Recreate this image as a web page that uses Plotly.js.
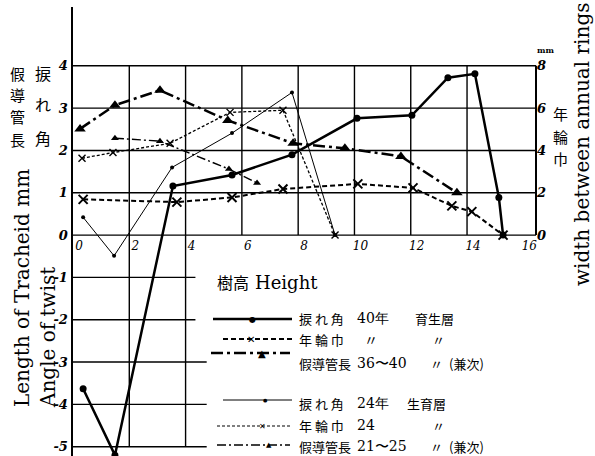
<!DOCTYPE html>
<html><head><meta charset="utf-8">
<script src="https://cdn.plot.ly/plotly-3.0.1.min.js"></script>
<style>html,body{margin:0;padding:0;background:#fff}</style>
</head><body><div id="chart" style="width:595px;height:456px"></div>
<script>
// ---- data ----
const twist40X = [0.36, 1.49, 3.55, 5.65, 7.78, 10.09, 12.04, 13.32, 14.28, 15.13, 15.28];
const twist40Y = [-3.63, -5.2, 1.16, 1.42, 1.9, 2.76, 2.83, 3.72, 3.81, 0.89, 0];
const ring40X = [0.36, 3.69, 5.65, 7.46, 10.12, 12.08, 13.46, 14.17, 15.28];
const ring40Y = [1.69, 1.56, 1.78, 2.18, 2.42, 2.23, 1.38, 1.11, 0];          // mm (right axis)
const trach40X = [0.25, 1.49, 3.09, 5.5, 7.82, 9.66, 11.65, 13.64];
const trach40Y = [2.51, 3.07, 3.42, 2.71, 2.17, 2.05, 1.86, 1.0];
const twist24X = [0.36, 1.46, 3.52, 5.65, 7.78, 9.31];
const twist24Y = [0.42, -0.49, 1.6, 2.41, 3.37, 0];
const ring24X = [0.32, 1.42, 3.45, 5.58, 7.46, 9.31];
const ring24Y = [3.63, 3.9, 4.34, 5.8, 5.9, 0];                                // mm (right axis)
const trach24X = [1.49, 3.09, 5.54, 6.54];
const trach24Y = [2.29, 2.22, 1.56, 1.23];

const xTicks = [0, 2, 4, 6, 8, 10, 12, 14, 16];
const yTicks = [-5, -4, -3, -2, -1, 0, 1, 2, 3, 4];
const yTickText = ['-5', '-4', '-3', '-2', '-1', '0', '1', '2', '3', '4'];
const y2Ticks = [0, 2, 4, 6, 8];
const upperGridY = [0, 1, 2, 3, 4];
const lowerGridY = [-1, -2, -3, -4, -5];
const lowerGridEnd = [4.35, 4.35, 4.75, 4.75, 4.75];
const upperGridX = [2, 4, 6, 8, 10, 12, 14];
const lowerGridX = [2, 4];

// ---- geometry helpers ----
const L = 73, T = 7, W = 463, H = 449;
const px = x => (x - L) / W;
const py = y => (456 - y) / H;

const K = 'black';
const traces = [
  {x: twist40X, y: twist40Y, mode: 'lines+markers', line: {color: K, width: 2.5}, marker: {symbol: 'circle', size: 7, color: K}},
  {x: ring40X, y: ring40Y, yaxis: 'y2', mode: 'lines+markers', line: {color: K, width: 2, dash: '5px,3px'}, marker: {symbol: 'x-thin', size: 9, line: {color: K, width: 2}}},
  {x: trach40X, y: trach40Y, mode: 'lines+markers', line: {color: K, width: 2.5, dash: '12px,4px,3px,4px'}, marker: {symbol: 'triangle-up', size: 10, color: K}},
  {x: twist24X, y: twist24Y, mode: 'lines+markers', line: {color: K, width: 1}, marker: {symbol: 'circle', size: 4, color: K}},
  {x: ring24X, y: ring24Y, yaxis: 'y2', mode: 'lines+markers', line: {color: K, width: 1.3, dash: '3px,2px'}, marker: {symbol: 'x-thin', size: 7, line: {color: K, width: 1.4}}},
  {x: trach24X, y: trach24Y, mode: 'lines+markers', line: {color: K, width: 1.4, dash: '9px,3px,2px,3px'}, marker: {symbol: 'triangle-up', size: 7, color: K}}
];

const shapes = [];
upperGridY.forEach(v => shapes.push({type: 'line', xref: 'paper', yref: 'y', x0: 0, x1: 1, y0: v, y1: v, line: {color: K, width: 1.4}, layer: 'below'}));
lowerGridY.forEach((v, i) => shapes.push({type: 'line', xref: 'x', yref: 'y', x0: 0, x1: lowerGridEnd[i], y0: v, y1: v, line: {color: K, width: 1.4}, layer: 'below'}));
upperGridX.forEach(v => shapes.push({type: 'line', xref: 'x', yref: 'y', x0: v, x1: v, y0: 0, y1: 4, line: {color: K, width: 1.4}, layer: 'below'}));
lowerGridX.forEach(v => shapes.push({type: 'line', xref: 'x', yref: 'y', x0: v, x1: v, y0: -5, y1: 0, line: {color: K, width: 1.4}, layer: 'below'}));
// right axis line (0..8 mm)
shapes.push({type: 'line', xref: 'paper', yref: 'y2', x0: 1, x1: 1, y0: 0, y1: 8, line: {color: K, width: 2}});

// legend rows: line y, x0, x1, dash, width, glyph, glyph x, glyph size
const legRows = [
  [319, 213, 292, 'solid', 2.5, '●', 252, 8],
  [339, 223, 292, '5px,3px', 2, '✕', 251, 10],
  [353, 211, 290, '12px,4px,3px,4px', 2.5, '▲', 262, 10],
  [400, 223, 292, 'solid', 1, '●', 265, 5],
  [426, 217, 290, '3px,2px', 1.2, '✕', 262, 8],
  [445, 217, 290, '9px,3px,2px,3px', 1.3, '▲', 269, 7]
];
const ann = [];
legRows.forEach(r => {
  shapes.push({type: 'line', xref: 'paper', yref: 'paper', x0: px(r[1]), x1: px(r[2]), y0: py(r[0]), y1: py(r[0]), line: {color: K, width: r[4], dash: r[3]}});
  ann.push({xref: 'paper', yref: 'paper', x: px(r[6]), y: py(r[0]), text: r[5], showarrow: false, font: {family: 'DejaVu Sans', size: r[7], color: K}, xanchor: 'center', yanchor: 'middle'});
});

const CJK = 'Noto Sans CJK JP';
const SER = 'DejaVu Serif';
function txt(s, x, y, size, fam, opts) {
  ann.push(Object.assign({xref: 'paper', yref: 'paper', x: px(x), y: py(y), text: s, showarrow: false,
    font: {family: fam, size: size, color: K}, xanchor: 'left', yanchor: 'middle'}, opts || {}));
}
// legend texts
txt('樹高', 215, 282, 16, CJK);
txt('Height', 253, 282, 18, SER);
const legTexts = [
  [318, '捩 れ 角', '40年', 355, '育生層', 413, ''],
  [339, '年 輪 巾', '〃', 362, '〃', 430, ''],
  [363, '假導管長', '36〜40', 355, '〃', 428, '(兼次)'],
  [403, '捩 れ 角', '24年', 355, '生育層', 405, ''],
  [425, '年 輪 巾', '24', 355, '〃', 430, ''],
  [446, '假導管長', '21〜25', 355, '〃', 428, '(兼次)']
];
legTexts.forEach(r => {
  txt(r[1], 297, r[0], 13, CJK);
  txt(r[2], r[3], r[0], 14, (r[2] === '〃') ? CJK : SER);
  txt(r[4], r[5], r[0], 13, CJK);
  if (r[6]) txt(r[6], 447, r[0], 13, CJK);
});
// left vertical CJK labels
[['假', 73], ['導', 94], ['管', 116], ['長', 139]].forEach(c => txt(c[0], 17.5, c[1], 15, CJK, {xanchor: 'center'}));
[['捩', 73], ['れ', 104], ['角', 138]].forEach(c => txt(c[0], 43, c[1], 16, CJK, {xanchor: 'center'}));
// right vertical CJK label
[['年', 113], ['輪', 136], ['巾', 158]].forEach(c => txt(c[0], 560, c[1], 15, CJK, {xanchor: 'center'}));
txt('mm', 545, 50, 8, SER, {xanchor: 'center', font: {family: SER, size: 8, color: K, weight: 'bold'}});
// rotated titles
txt('Length of Tracheid mm', 22, 288, 20, SER, {xanchor: 'center', textangle: -90});
txt('Angle of twist', 48, 338, 20, SER, {xanchor: 'center', textangle: -90});
txt('width between annual rings', 582, 145, 20, SER, {xanchor: 'center', textangle: -90});

const tickFont = {family: SER, size: 13, color: K, style: 'italic', weight: 'bold'};
const layout = {
  width: 595, height: 456,
  margin: {l: L, r: 595 - L - W, t: T, b: 456 - T - H},
  paper_bgcolor: 'white', plot_bgcolor: 'white',
  showlegend: false,
  xaxis: {range: [0, 16.45], showgrid: false, zeroline: false, showline: false, anchor: 'free', position: py(237),
          tickvals: xTicks, ticks: '', ticklabelshift: 6, ticklabelstandoff: 0,
          tickfont: {family: SER, size: 12, color: K, style: 'italic'}},
  yaxis: {range: [-5.22, 5.39], showgrid: false, zeroline: false, showline: true, linecolor: K, linewidth: 2.5,
          tickvals: yTicks, ticktext: yTickText, ticks: '', tickfont: tickFont},
  yaxis2: {range: [-10.44, 10.78], overlaying: 'y', side: 'right', showgrid: false, zeroline: false, showline: false,
           tickvals: y2Ticks, ticks: '', tickfont: tickFont},
  shapes: shapes,
  annotations: ann
};
Plotly.newPlot('chart', traces, layout, {staticPlot: true, displayModeBar: false});
</script>
</body></html>
